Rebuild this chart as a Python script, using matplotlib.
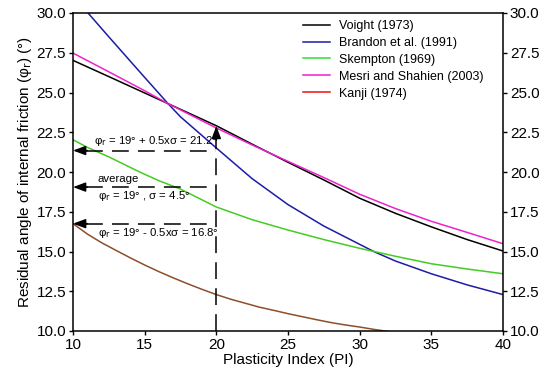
import matplotlib
matplotlib.use("Agg")
import matplotlib.pyplot as plt
from matplotlib.lines import Line2D

plt.rcParams['font.family'] = ['Liberation Sans', 'DejaVu Sans']

pi_x = [10, 12.5, 15, 16.63, 20, 22.5, 25, 27.5, 30, 32.5, 35, 37.5, 40]
voight = [27.02, 26.0, 24.97, 24.3, 22.91, 21.75, 20.61, 19.5, 18.35, 17.4, 16.55, 15.75, 15.03]
mesri = [27.48, 26.3, 25.11, 24.3, 22.77, 21.7, 20.67, 19.65, 18.6, 17.7, 16.9, 16.2, 15.49]
skempton_x = [10, 11, 12.5, 14.65, 16, 17.44, 20, 22.5, 25, 27.5, 30, 32.5, 35, 37.5, 40]
skempton = [22.03, 21.55, 20.95, 20.0, 19.45, 18.95, 17.8, 17.0, 16.35, 15.75, 15.2, 14.7, 14.23, 13.9, 13.6]
brandon_x = [11.05, 12.5, 15, 16.63, 17.5, 20, 22.5, 25, 27.5, 30, 31.05, 32.5, 35, 37.5, 40]
brandon = [30.0, 28.5, 25.95, 24.3, 23.47, 21.51, 19.58, 17.95, 16.6, 15.45, 14.97, 14.4, 13.6, 12.9, 12.29]
kanji_x = [10, 11, 12, 13, 14, 15, 16, 17, 18, 19, 20, 21, 22, 23, 24, 25,
           26, 27, 28, 29, 30, 31, 32]
kanji = [16.75, 16.1, 15.55, 15.07, 14.6, 14.15, 13.73, 13.34, 12.97, 12.62, 12.29,
         12.0, 11.75, 11.5, 11.3, 11.09, 10.9, 10.71, 10.53, 10.38, 10.25, 10.1, 9.97]

labels = ["Voight (1973)", "Brandon et al. (1991)", "Skempton (1969)",
          "Mesri and Shahien (2003)", "Kanji (1974)"]
colors = ["#000000", "#1c1ca6", "#33dd33", "#ee22cc", "#ee1111"]

levels = [21.35, 19.05, 16.75]
pi_mark = 20
top_mark = 22.9

fig = plt.figure(figsize=(5.5, 3.76), dpi=100)
ax = fig.add_axes([73 / 550, 1 - 331 / 376, 430 / 550, 318 / 376])

lw = 1.1
ax.plot(pi_x, voight, color=colors[0], lw=lw)
ax.plot(brandon_x, brandon, color=colors[1], lw=lw)
ax.plot(skempton_x, skempton, color="#44cc22", lw=lw)
ax.plot(pi_x, mesri, color=colors[3], lw=lw)
ax.plot(kanji_x, kanji, color="#8c4f2a", lw=lw)

dash = (0, (11, 6))
arrow = dict(arrowstyle='-|>,head_length=0.75,head_width=0.28',
             color='black', lw=1.1, shrinkA=0, shrinkB=0)
for lv in levels:
    ax.plot([10.9, pi_mark], [lv, lv], color='black', lw=1.1, linestyle=dash)
    ax.annotate("", xy=(10, lv), xytext=(11.0, lv), arrowprops=arrow)
ax.plot([pi_mark, pi_mark], [10, top_mark - 0.8], color='black', lw=1.1, linestyle=dash)
ax.annotate("", xy=(pi_mark, top_mark), xytext=(pi_mark, top_mark - 0.9), arrowprops=arrow)

fs = 8.2
ax.text(11.44, 21.93, r"φ$_\mathrm{r}$ = 19° + 0.5xσ = 21.2°", fontsize=fs, va='center')
ax.text(11.74, 19.54, "average", fontsize=fs, va='center')
ax.text(11.74, 18.49, r"φ$_\mathrm{r}$ = 19° , σ = 4.5°", fontsize=fs, va='center')
ax.text(11.74, 16.16, r"φ$_\mathrm{r}$ = 19° - 0.5xσ = 16.8°", fontsize=fs, va='center')

ax.set_xlim(10, 40)
ax.set_ylim(10, 30)
ax.set_xticks([10, 15, 20, 25, 30, 35, 40])
yt = [10, 12.5, 15, 17.5, 20, 22.5, 25, 27.5, 30]
ax.set_yticks(yt)
ax.set_yticklabels([f"{v:.1f}" for v in yt])
ax.tick_params(axis='both', direction='out', length=3, labelsize=11, width=1, pad=2)
ax.tick_params(axis='y', right=True, labelright=True)
for s in ax.spines.values():
    s.set_linewidth(1.1)

ax.set_xlabel("Plasticity Index (PI)", fontsize=11, labelpad=1)
ax.set_ylabel(r"Residual angle of internal friction (φ$_\mathrm{r}$) (°)", fontsize=11, labelpad=2)

handles = [Line2D([], [], color=c, lw=1.1) for c in colors]
ax.legend(handles, labels, loc='upper left', bbox_to_anchor=(303 / 550, 1 - 20 / 376),
          bbox_transform=fig.transFigure, frameon=False, borderpad=0, borderaxespad=0,
          fontsize=9, handlelength=2.16, labelspacing=0.39, handletextpad=0.72)

fig.savefig("out.png", dpi=100)
